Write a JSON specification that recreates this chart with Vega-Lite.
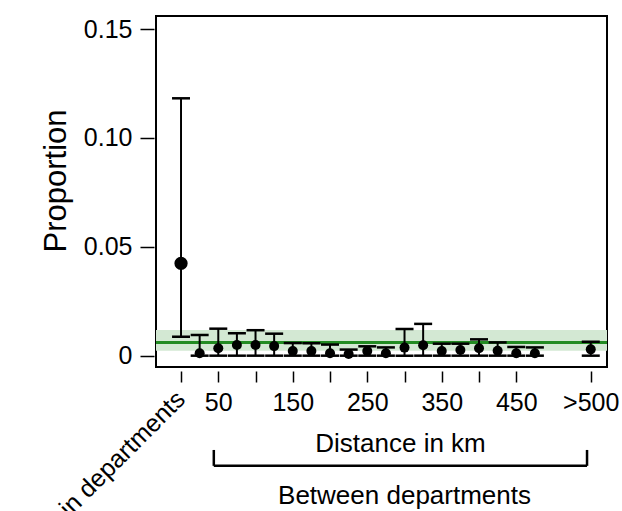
{
  "$schema": "https://vega.github.io/schema/vega-lite/v6.json",
  "width": 451,
  "height": 351,
  "autosize": {"type": "none"},
  "padding": {"left": 156, "top": 16, "right": 15, "bottom": 144},
  "background": "white",
  "config": {
    "font": "Liberation Sans",
    "view": {"stroke": "black", "strokeWidth": 2},
    "axis": {"grid": false, "domain": false, "tickColor": "black", "labelColor": "black", "titleColor": "black", "titleFontWeight": "normal", "labelOverlap": false, "labelFlush": false}
  },
  "datasets": {
    "est": [
      {"km": 0, "prop": 0.0424, "lo": 0.0087, "hi": 0.1182, "grp": "within"},
      {"km": 25, "prop": 0.0011, "lo": 0, "hi": 0.0095, "grp": "between"},
      {"km": 50, "prop": 0.0034, "lo": 0, "hi": 0.0124, "grp": "between"},
      {"km": 75, "prop": 0.0049, "lo": 0, "hi": 0.0103, "grp": "between"},
      {"km": 100, "prop": 0.0049, "lo": 0, "hi": 0.0117, "grp": "between"},
      {"km": 125, "prop": 0.0044, "lo": 0, "hi": 0.0101, "grp": "between"},
      {"km": 150, "prop": 0.0021, "lo": 0, "hi": 0.0058, "grp": "between"},
      {"km": 175, "prop": 0.0021, "lo": 0, "hi": 0.0057, "grp": "between"},
      {"km": 200, "prop": 0.0011, "lo": 0, "hi": 0.0051, "grp": "between"},
      {"km": 225, "prop": 0.0008, "lo": 0, "hi": 0.0028, "grp": "between"},
      {"km": 250, "prop": 0.0021, "lo": 0, "hi": 0.0043, "grp": "between"},
      {"km": 275, "prop": 0.0011, "lo": 0, "hi": 0.0038, "grp": "between"},
      {"km": 300, "prop": 0.0037, "lo": 0, "hi": 0.0122, "grp": "between"},
      {"km": 325, "prop": 0.0048, "lo": 0, "hi": 0.0146, "grp": "between"},
      {"km": 350, "prop": 0.0021, "lo": 0, "hi": 0.0055, "grp": "between"},
      {"km": 375, "prop": 0.0026, "lo": 0, "hi": 0.0055, "grp": "between"},
      {"km": 400, "prop": 0.0034, "lo": 0, "hi": 0.0075, "grp": "between"},
      {"km": 425, "prop": 0.0023, "lo": 0, "hi": 0.0061, "grp": "between"},
      {"km": 450, "prop": 0.0011, "lo": 0, "hi": 0.004, "grp": "between"},
      {"km": 475, "prop": 0.0011, "lo": 0, "hi": 0.0038, "grp": "between"},
      {"km": 550, "prop": 0.0029, "lo": 0, "hi": 0.0064, "grp": "between"}
    ],
    "ref": [{"mid": 0.006, "lo": 0.0023, "hi": 0.0118}],
    "notes": [{"within": "Within departments", "between": "Between departments"}]
  },
  "layer": [
    {
      "data": {"name": "ref"},
      "mark": {"type": "rect", "color": "#d3e8d3"},
      "encoding": {
        "y": {"field": "lo", "type": "quantitative", "scale": {"domain": [-0.0052, 0.156], "nice": false, "zero": false}, "title": "Proportion"},
        "y2": {"field": "hi"}
      }
    },
    {
      "data": {"name": "ref"},
      "mark": {"type": "rule", "color": "#228B22", "strokeWidth": 3},
      "encoding": {
        "y": {"field": "mid", "type": "quantitative", "title": "Proportion"}
      }
    },
    {
      "data": {"name": "est"},
      "mark": {"type": "rule", "color": "black", "strokeWidth": 2},
      "encoding": {
        "x": {"field": "km", "type": "quantitative", "scale": {"domain": [-33.6, 571.8], "nice": false, "zero": false}, "title": "Distance in km"},
        "y": {"field": "lo", "type": "quantitative", "title": "Proportion"},
        "y2": {"field": "hi"}
      }
    },
    {
      "data": {"name": "est"},
      "mark": {"type": "tick", "orient": "horizontal", "color": "black", "size": 18, "thickness": 2.5, "opacity": 1},
      "encoding": {
        "x": {"field": "km", "type": "quantitative", "title": "Distance in km"},
        "y": {"field": "hi", "type": "quantitative", "title": "Proportion"}
      }
    },
    {
      "data": {"name": "est"},
      "mark": {"type": "tick", "orient": "horizontal", "color": "black", "size": 18, "thickness": 2.5, "opacity": 1},
      "encoding": {
        "x": {"field": "km", "type": "quantitative", "title": "Distance in km"},
        "y": {"field": "lo", "type": "quantitative", "title": "Proportion"}
      }
    },
    {
      "data": {"name": "est"},
      "mark": {"type": "point", "filled": true, "color": "black", "opacity": 1},
      "encoding": {
        "x": {"field": "km", "type": "quantitative", "title": "Distance in km",
          "axis": {"values": [0, 50, 100, 150, 200, 250, 300, 350, 400, 450, 550], "labelExpr": "datum.value == 550 ? '>500' : (datum.value % 100 == 50 ? datum.label : '')", "tickSize": 11, "tickWidth": 1.5, "offset": 4, "labelFontSize": 25, "labelPadding": 8, "titleFontSize": 26, "titleX": 244, "titlePadding": 15}},
        "y": {"field": "prop", "type": "quantitative", "title": "Proportion",
          "axis": {"values": [0, 0.05, 0.1, 0.15], "labelExpr": "datum.value == 0 ? '0' : format(datum.value, '.2f')", "tickSize": 14, "tickWidth": 1.5, "offset": 2, "labelFontSize": 25, "labelPadding": 8, "titleFontSize": 31, "titleY": 164.5, "titlePadding": 11}},
        "size": {"field": "grp", "type": "nominal", "scale": {"domain": ["within", "between"], "range": [177, 100]}, "legend": null}
      }
    },
    {
      "data": {"name": "notes"},
      "mark": {"type": "text", "angle": 315, "align": "right", "baseline": "alphabetic", "fontSize": 25, "color": "black"},
      "encoding": {
        "text": {"field": "within"},
        "x": {"datum": 7.4, "type": "quantitative"},
        "y": {"datum": -0.0208, "type": "quantitative"}
      }
    },
    {
      "data": {"name": "notes"},
      "mark": {"type": "rule", "color": "black", "strokeWidth": 2.5},
      "encoding": {
        "x": {"datum": 44, "type": "quantitative"},
        "x2": {"datum": 545},
        "y": {"datum": -0.0506, "type": "quantitative"}
      }
    },
    {
      "data": {"name": "notes"},
      "mark": {"type": "rule", "color": "black", "strokeWidth": 2.5},
      "encoding": {
        "x": {"datum": 44, "type": "quantitative"},
        "y": {"datum": -0.0433, "type": "quantitative"},
        "y2": {"datum": -0.0506}
      }
    },
    {
      "data": {"name": "notes"},
      "mark": {"type": "rule", "color": "black", "strokeWidth": 2.5},
      "encoding": {
        "x": {"datum": 545, "type": "quantitative"},
        "y": {"datum": -0.0433, "type": "quantitative"},
        "y2": {"datum": -0.0506}
      }
    },
    {
      "data": {"name": "notes"},
      "mark": {"type": "text", "align": "center", "baseline": "alphabetic", "fontSize": 26, "color": "black"},
      "encoding": {
        "text": {"field": "between"},
        "x": {"datum": 300, "type": "quantitative"},
        "y": {"datum": -0.0682, "type": "quantitative"}
      }
    }
  ]
}
